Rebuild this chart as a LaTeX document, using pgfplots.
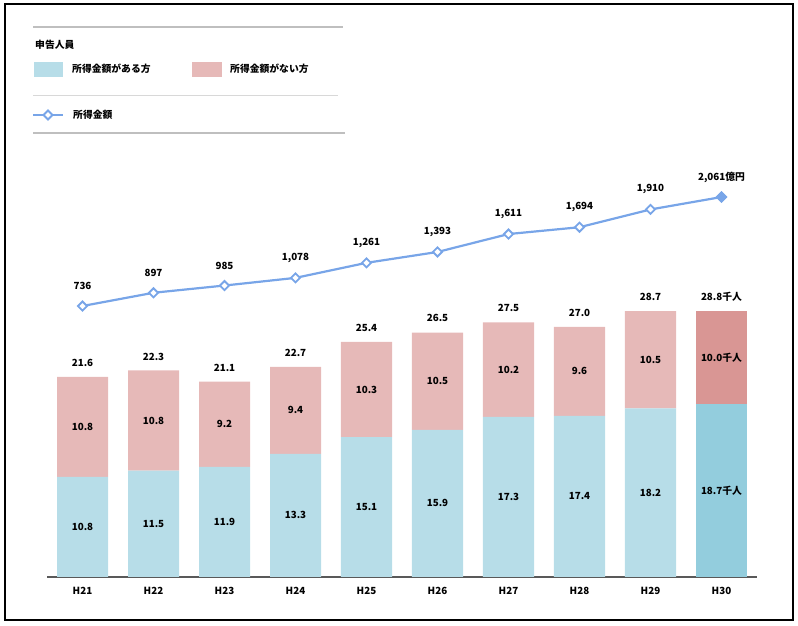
\documentclass[border=0pt]{standalone}
\usepackage{pgfplots}
\pgfplotsset{compat=1.18}
\usepackage{fontspec}
\setmainfont{Noto Sans CJK JP}
\definecolor{bblue}{HTML}{B7DDE8}
\definecolor{dblue}{HTML}{93CDDD}
\definecolor{bpink}{HTML}{E6B9B8}
\definecolor{dpink}{HTML}{D99694}
\definecolor{lblue}{HTML}{78A5E8}
\definecolor{lgray}{HTML}{BFBFBF}
\begin{document}
\begin{tikzpicture}[x=1pt,y=1pt,font=\fontsize{9.8}{11}\selectfont\bfseries]
\path (0,0) rectangle (798,626);
\draw[line width=2pt] (5,6) rectangle (792.5,621.5);
% legend
\draw[lgray,line width=2.5pt] (33,599) -- (343,599);
\node[anchor=west,inner sep=0] at (35,581) {申告人員};
\fill[bblue] (34,549) rectangle (63,564);
\node[anchor=west,inner sep=0] at (72,557) {所得金額がある方};
\fill[bpink] (192,549) rectangle (222,564);
\node[anchor=west,inner sep=0] at (230,557) {所得金額がない方};
\draw[lgray!60,line width=0.8pt] (33,531) -- (338,531);
\draw[lblue,line width=2.2pt] (33,511) -- (63,511);
\draw[lblue,line width=1.8pt,fill=white] (48,515.5) -- (52.5,511) -- (48,506.5) -- (43.5,511) -- cycle;
\node[anchor=west,inner sep=0] at (73,511) {所得金額};
\draw[lgray,line width=2.5pt] (33,493) -- (345,493);
% bars
\begin{axis}[at={(47pt,49pt)},anchor=south west,scale only axis,
  width=710pt,height=427pt,xmin=-0.5,xmax=9.5,ymin=0,ymax=46.11,
  ybar stacked,bar width=51pt,
  axis x line*=bottom, axis y line=none,
  x axis line style={draw=black!65,line width=1.5pt,-},
  xtick={0,...,9},xticklabels={H21,H22,H23,H24,H25,H26,H27,H28,H29,H30},
  major tick length=0pt,
  xticklabel style={font=\fontsize{9.8}{11}\selectfont\bfseries,yshift=-7pt},
  clip=false]
\addplot[fill=bblue,draw=none] coordinates {(0,10.8)(1,11.5)(2,11.9)(3,13.3)(4,15.1)(5,15.9)(6,17.3)(7,17.4)(8,18.2)(9,0)};
\addplot[fill=dblue,draw=none] coordinates {(0,0)(1,0)(2,0)(3,0)(4,0)(5,0)(6,0)(7,0)(8,0)(9,18.7)};
\addplot[fill=bpink,draw=none] coordinates {(0,10.8)(1,10.8)(2,9.2)(3,9.4)(4,10.3)(5,10.5)(6,10.2)(7,9.6)(8,10.5)(9,0)};
\addplot[fill=dpink,draw=none] coordinates {(0,0)(1,0)(2,0)(3,0)(4,0)(5,0)(6,0)(7,0)(8,0)(9,10.0)};
\end{axis}
% bar labels
\begin{axis}[at={(47pt,49pt)},anchor=south west,scale only axis,
  width=710pt,height=427pt,xmin=-0.5,xmax=9.5,ymin=0,ymax=46.11,
  axis lines=none,clip=false,
  nodes near coords,point meta=explicit symbolic,
  every node near coord/.append style={anchor=center,inner sep=0,font=\fontsize{9.8}{11}\selectfont\bfseries}]
\addplot[only marks,mark=none] coordinates {(0,5.4)[10.8](1,5.75)[11.5](2,5.95)[11.9](3,6.65)[13.3](4,7.55)[15.1](5,7.95)[15.9](6,8.65)[17.3](7,8.7)[17.4](8,9.1)[18.2](9,9.35)[18.7千人]};
\addplot[only marks,mark=none] coordinates {(0,16.2)[10.8](1,16.9)[10.8](2,16.5)[9.2](3,18.0)[9.4](4,20.25)[10.3](5,21.15)[10.5](6,22.4)[10.2](7,22.2)[9.6](8,23.45)[10.5](9,23.7)[10.0千人]};
\addplot[only marks,mark=none,every node near coord/.append style={yshift=14pt}] coordinates {(0,21.6)[21.6](1,22.3)[22.3](2,21.1)[21.1](3,22.7)[22.7](4,25.4)[25.4](5,26.5)[26.5](6,27.5)[27.5](7,27.0)[27.0](8,28.7)[28.7](9,28.8)[28.8千人]};
\end{axis}
% line
\begin{axis}[at={(47pt,49pt)},anchor=south west,scale only axis,
  width=710pt,height=427pt,xmin=-0.5,xmax=9.5,ymin=-2559,ymax=2633,
  axis lines=none,clip=false,
  nodes near coords,point meta=explicit symbolic,
  every node near coord/.append style={anchor=center,inner sep=0,yshift=20pt,font=\fontsize{9.8}{11}\selectfont\bfseries,text=black}]
\addplot[lblue,line width=2.2pt,mark=square*,mark size=3.2pt,
  mark options={rotate=45,fill=white,line width=1.8pt}] coordinates {(0,736)[736](1,897)[897](2,985)[985](3,1078)[1{,}078](4,1261)[1{,}261](5,1393)[1{,}393](6,1611)[1{,}611](7,1694)[1{,}694](8,1910)[1{,}910](9,2061)[2{,}061億円]};
\addplot[lblue,only marks,mark=square*,mark size=3.2pt,
  mark options={rotate=45,fill=lblue,line width=1.8pt},nodes near coords=] coordinates {(9,2061)};
\end{axis}
\end{tikzpicture}
\end{document}
